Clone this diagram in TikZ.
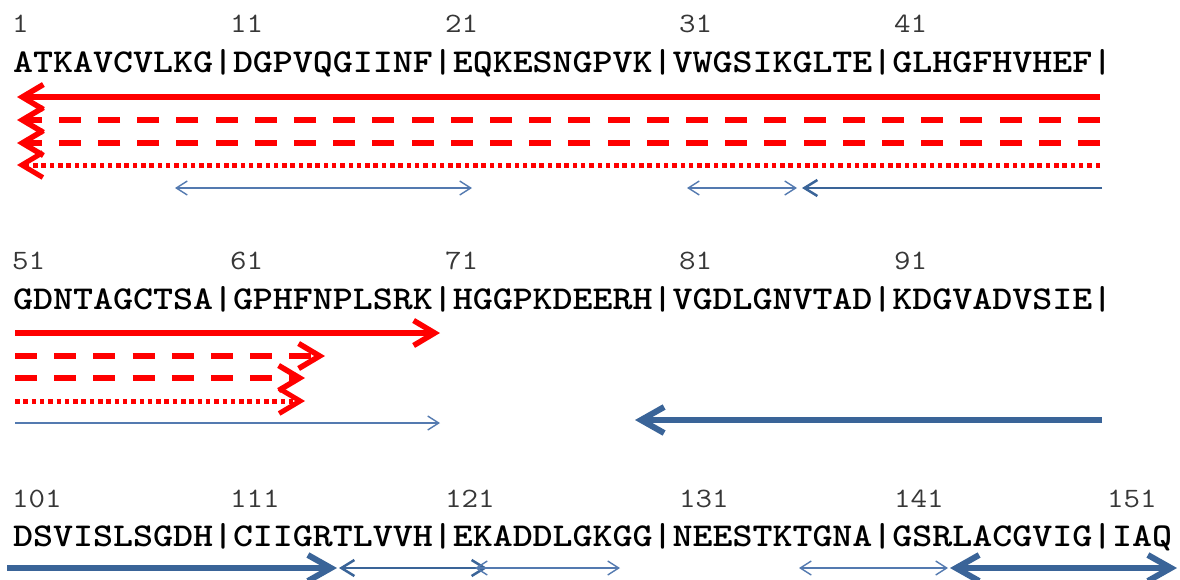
\documentclass[tikz,border=0pt]{standalone}
\usepackage{fontspec}
\usetikzlibrary{arrows.meta}
\definecolor{hlred}{RGB}{255,0,0}
\definecolor{hlblue}{RGB}{58,100,152}
\definecolor{hlbluelight}{RGB}{84,122,176}
\definecolor{numgray}{RGB}{55,55,55}

% typewriter text, widened so that one character takes 20pt (sequence) or 16.8pt (numbers)
\newcommand{\seqtext}[1]{\scalebox{1.143}[1]{\fontseries{b}\ttfamily\fontsize{33.3}{40}\selectfont #1}}
\newcommand{\numtext}[1]{\scalebox{1.143}[1]{\ttfamily\fontsize{28}{34}\selectfont #1}}

\tikzset{
  seq/.style={anchor=base west, inner sep=0pt},
  num/.style={anchor=base west, inner sep=0pt, text=numgray},
  redtip/.tip={Straight Barb[length=21pt,width=25pt]},
  redsolid/.style={draw=hlred, line width=5.5pt, -redtip},
  reddash/.style={draw=hlred, line width=5.5pt, dash pattern=on 22pt off 17.2pt, -redtip},
  reddot/.style={draw=hlred, line width=5pt, dash pattern=on 4.5pt off 3.8pt, -redtip},
  thintip/.tip={Straight Barb[length=11pt,width=14pt]},
  midtip/.tip={Straight Barb[length=13pt,width=16pt]},
  thicktip/.tip={Straight Barb[length=23pt,width=26pt]},
  bluethin/.style={draw=hlbluelight, line width=1.4pt},
  bluemid/.style={draw=hlblue, line width=2.5pt},
  bluethick/.style={draw=hlblue, line width=6pt},
}

\begin{document}
\begin{tikzpicture}[x=1pt, y=-1pt]
\useasboundingbox[fill=white] (0,0) rectangle (1180,579);

% ---------- residues 1-50 ----------
\node[num] (n1)  at (12,32)  {\numtext{1}};
\node[num] (n11) at (230,32) {\numtext{11}};
\node[num] (n21) at (445,32) {\numtext{21}};
\node[num] (n31) at (679,32) {\numtext{31}};
\node[num] (n41) at (894,32) {\numtext{41}};
\node[seq] (s1) at (13,72) {\seqtext{ATKAVCVLKG|DGPVQGIINF|EQKESNGPVK|VWGSIKGLTE|GLHGFHVHEF|}};

\coordinate (a1r) at (1100,97);  \coordinate (a1l) at (17,97);
\coordinate (b1r) at (1100,120); \coordinate (b1l) at (17,120);
\coordinate (c1r) at (1100,143); \coordinate (c1l) at (17,143);
\coordinate (d1r) at (1100,165); \coordinate (d1l) at (17,165);
\draw[redsolid] (a1r) -- (a1l);
\draw[reddash]  (b1r) -- (b1l);
\draw[reddash]  (c1r) -- (c1l);
\draw[reddot]   (d1r) -- (d1l);

\coordinate (e1a) at (175,188); \coordinate (e1b) at (472,188);
\coordinate (f1a) at (687,188); \coordinate (f1b) at (797,188);
\coordinate (g1a) at (1102,188); \coordinate (g1b) at (802,188);
\draw[bluethin, thintip-thintip] (e1a) -- (e1b);
\draw[bluethin, thintip-thintip] (f1a) -- (f1b);
\draw[bluemid, -midtip] (g1a) -- (g1b);

% ---------- residues 51-100 ----------
\node[num] (n51) at (12,269)  {\numtext{51}};
\node[num] (n61) at (230,269) {\numtext{61}};
\node[num] (n71) at (445,269) {\numtext{71}};
\node[num] (n81) at (679,269) {\numtext{81}};
\node[num] (n91) at (894,269) {\numtext{91}};
\node[seq] (s2) at (13,309) {\seqtext{GDNTAGCTSA|GPHFNPLSRK|HGGPKDEERH|VGDLGNVTAD|KDGVADVSIE|}};

\coordinate (a2l) at (15,333); \coordinate (a2r) at (440,333);
\coordinate (b2l) at (15,356); \coordinate (b2r) at (325,356);
\coordinate (c2l) at (15,378); \coordinate (c2r) at (305,378);
\coordinate (d2l) at (15,401); \coordinate (d2r) at (305,401);
\draw[redsolid] (a2l) -- (a2r);
\draw[reddash]  (b2l) -- (b2r);
\draw[reddash]  (c2l) -- (c2r);
\draw[reddot]   (d2l) -- (d2r);

\coordinate (e2a) at (15,423);   \coordinate (e2b) at (440,423);
\coordinate (f2a) at (1102,420); \coordinate (f2b) at (635,420);
\draw[bluethin, -thintip] (e2a) -- (e2b);
\draw[bluethick, -thicktip] (f2a) -- (f2b);

% ---------- residues 101-153 ----------
\node[num] (n101) at (12,507)  {\numtext{101}};
\node[num] (n111) at (230,507) {\numtext{111}};
\node[num] (n121) at (445,507) {\numtext{121}};
\node[num] (n131) at (679,507) {\numtext{131}};
\node[num] (n141) at (894,507) {\numtext{141}};
\node[num] (n151) at (1107,507) {\numtext{151}};
\node[seq] (s3) at (13,546) {\seqtext{DSVISLSGDH|CIIGRTLVVH|EKADDLGKGG|NEESTKTGNA|GSRLACGVIG|IAQ}};

\coordinate (h3a) at (7,568);   \coordinate (h3b) at (337,568);
\coordinate (i3a) at (339,568); \coordinate (i3b) at (487,568);
\coordinate (j3a) at (475,568); \coordinate (j3b) at (620,568);
\coordinate (k3a) at (799,568); \coordinate (k3b) at (948,568);
\coordinate (l3a) at (950,568); \coordinate (l3b) at (1177,568);
\draw[bluethick, -thicktip] (h3a) -- (h3b);
\draw[bluemid, midtip-midtip] (i3a) -- (i3b);
\draw[bluethin, thintip-thintip] (j3a) -- (j3b);
\draw[bluethin, thintip-thintip] (k3a) -- (k3b);
\draw[bluethick, thicktip-thicktip] (l3a) -- (l3b);
\end{tikzpicture}
\end{document}
